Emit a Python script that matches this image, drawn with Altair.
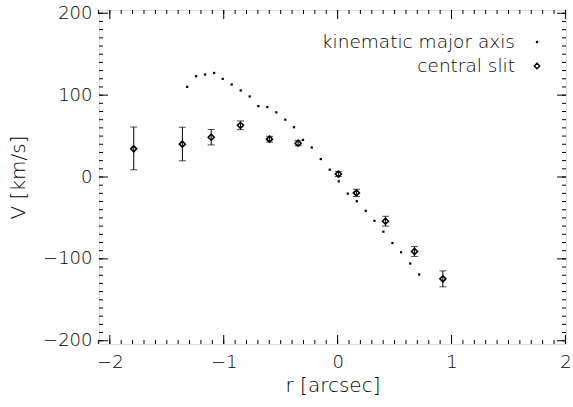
import altair as alt
import pandas as pd
import numpy as np

# central slit measurements
r_slit = [-1.79, -1.363, -1.11, -0.853, -0.598, -0.347, 0.007, 0.165, 0.42, 0.675, 0.924]
v_slit = [34.4, 40.1, 48.6, 63.2, 46.2, 41.3, 3.6, -19.4, -54.0, -91.0, -124.4]
e_lo = [25.5, 20.3, 9.4, 5.3, 3.5, 3.0, 3.0, 4.5, 6.0, 6.0, 9.7]
e_hi = [26.7, 20.7, 9.4, 5.3, 3.5, 3.0, 3.0, 4.5, 6.0, 6.0, 9.7]

# kinematic major axis
r_kin = [-1.321, -1.242, -1.163, -1.084, -1.009, -0.930, -0.851, -0.772, -0.696, -0.617,
         -0.538, -0.459, -0.383, -0.304, -0.227, -0.148, -0.069, 0.010, 0.089, 0.168,
         0.247, 0.323, 0.402, 0.481, 0.557, 0.637, 0.716]
v_kin = [110.1, 123.1, 125.2, 127.1, 119.8, 113.0, 105.7, 98.4, 86.6, 85.4,
         79.0, 70.0, 60.8, 45.3, 36.0, 21.9, 8.9, -5.3, -20.3, -29.6,
         -41.3, -53.5, -66.8, -80.7, -92.0, -105.7, -119.1]

x_major = [-2, -1, 0, 1, 2]
y_major = [-200, -100, 0, 100, 200]
x_minor = [round(v, 1) for v in np.arange(-2.1, 2.05, 0.1)]
y_minor = list(range(-200, 201, 10))

XDOM = [-2.095, 2.005]
YDOM = [-204, 204]
W, H = 467, 334
FONT = "DejaVu Sans"
FW = 200
FS = 18
TFS = 20

xs = alt.Scale(domain=XDOM, nice=False, zero=False)
ys = alt.Scale(domain=YDOM, nice=False, zero=False)

slit = pd.DataFrame({"r": r_slit, "v": v_slit,
                     "lo": [v - e for v, e in zip(v_slit, e_lo)],
                     "hi": [v + e for v, e in zip(v_slit, e_hi)]})
kin = pd.DataFrame({"r": r_kin, "v": v_kin})

base_x = alt.X("r:Q", scale=xs,
               axis=alt.Axis(values=x_major, format="d", ticks=False, domain=False, grid=False,
                             labelFontSize=FS, labelFont=FONT, labelPadding=9,
                             labelFontWeight=FW, labelColor="black", labelFlush=False,
                             labelOverlap=False,
                             title="r [arcsec]", titleFont=FONT, titleFontSize=TFS,
                             titleFontWeight=FW, titlePadding=4, titleColor="black"))
base_y = alt.Y("v:Q", scale=ys,
               axis=alt.Axis(values=y_major, format="d", ticks=False, domain=False, grid=False,
                             labelFontSize=FS, labelFont=FONT, labelPadding=7,
                             labelFontWeight=FW, labelColor="black", labelFlush=False,
                             labelOverlap=False,
                             title="V [km/s]", titleFont=FONT, titleFontSize=TFS,
                             titleFontWeight=FW, titlePadding=14, titleColor="black"))

kin_pts = alt.Chart(kin).mark_square(size=5, color="black", opacity=1).encode(x=base_x, y=base_y)

bars = alt.Chart(slit).mark_rule(color="black", strokeWidth=1).encode(
    x=alt.X("r:Q", scale=xs), y=alt.Y("lo:Q", scale=ys), y2="hi:Q")
cap_lo = alt.Chart(slit).mark_tick(color="black", orient="horizontal", size=7, thickness=1).encode(
    x=alt.X("r:Q", scale=xs), y=alt.Y("lo:Q", scale=ys))
cap_hi = alt.Chart(slit).mark_tick(color="black", orient="horizontal", size=7, thickness=1).encode(
    x=alt.X("r:Q", scale=xs), y=alt.Y("hi:Q", scale=ys))
diam = alt.Chart(slit).mark_point(shape="diamond", size=36, color="black", filled=False,
                                  strokeWidth=1.6, opacity=1).encode(
    x=alt.X("r:Q", scale=xs), y=alt.Y("v:Q", scale=ys))

# inward ticks on all four sides
xmin_df = pd.DataFrame({"t": x_minor})
xmaj_df = pd.DataFrame({"t": x_major})
ymin_df = pd.DataFrame({"t": y_minor})
ymaj_df = pd.DataFrame({"t": y_major})

def xticks(df, L):
    b = alt.Chart(df).mark_rule(color="black", strokeWidth=1)
    return (b.encode(x=alt.X("t:Q", scale=xs), y=alt.value(H), y2=alt.value(H - L)) +
            b.encode(x=alt.X("t:Q", scale=xs), y=alt.value(0), y2=alt.value(L)))

def yticks(df, L):
    b = alt.Chart(df).mark_rule(color="black", strokeWidth=1)
    return (b.encode(y=alt.Y("t:Q", scale=ys), x=alt.value(0), x2=alt.value(L)) +
            b.encode(y=alt.Y("t:Q", scale=ys), x=alt.value(W), x2=alt.value(W - L)))

leg_df = pd.DataFrame({"label": ["kinematic major axis", "central slit"], "yy": [32, 56]})
leg_text = alt.Chart(leg_df).mark_text(align="right", baseline="middle", font=FONT,
                                       fontSize=18.5, fontWeight=FW, color="black").encode(
    x=alt.value(416), y=alt.Y("yy:Q", scale=None), text="label:N")
leg_dot = alt.Chart(pd.DataFrame({"a": [1]})).mark_square(size=5, color="black", opacity=1).encode(
    x=alt.value(438), y=alt.value(32))
leg_dia = alt.Chart(pd.DataFrame({"a": [1]})).mark_point(shape="diamond", size=30, color="black",
                                                         filled=False, strokeWidth=1.4, opacity=1).encode(
    x=alt.value(438), y=alt.value(56))

chart = alt.layer(
    kin_pts, bars, cap_lo, cap_hi, diam,
    xticks(xmin_df, 4), xticks(xmaj_df, 9), yticks(ymin_df, 4), yticks(ymaj_df, 9),
    leg_text, leg_dot, leg_dia,
).properties(
    width=W, height=H,
    padding={"left": 99, "top": 10, "right": 7, "bottom": 63},
    autosize="none",
).configure_view(stroke="black", strokeWidth=1.2).configure(background="white")

chart.save("out.html", embed_options={"renderer": "svg", "actions": False})
